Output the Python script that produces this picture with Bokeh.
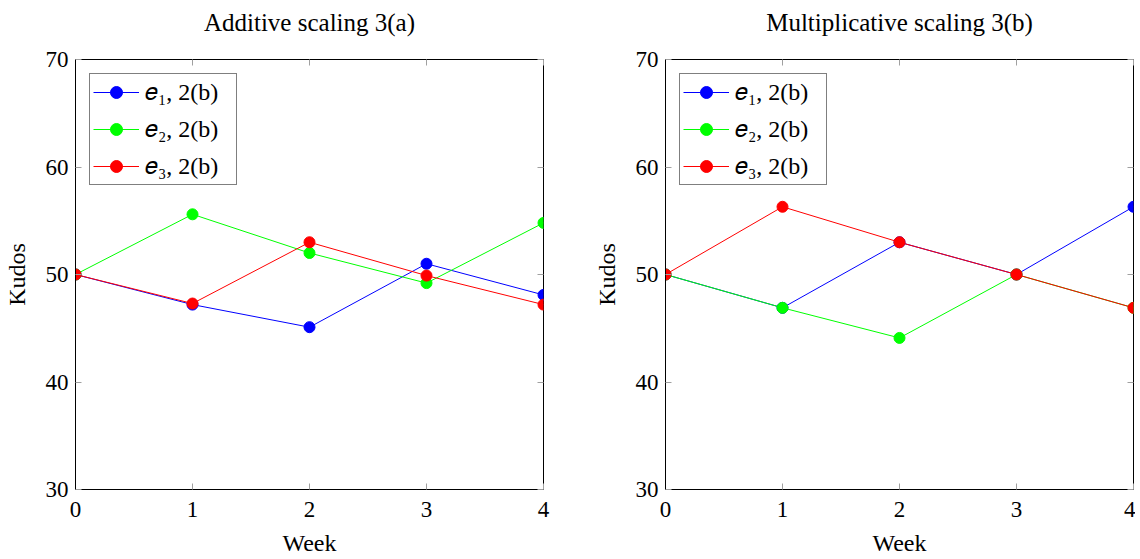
from bokeh.plotting import figure
from bokeh.layouts import row
from bokeh.models import LinearAxis, FixedTicker, Legend, Range1d
from bokeh.embed import file_html
from bokeh.resources import INLINE

weeks = [0, 1, 2, 3, 4]

# Additive scaling 3(a)
add_e1 = [50.0, 47.2, 45.1, 51.0, 48.1]
add_e2 = [50.0, 55.6, 52.0, 49.2, 54.8]
add_e3 = [50.0, 47.3, 53.0, 49.9, 47.2]

# Multiplicative scaling 3(b)
mul_e1 = [50.0, 46.9, 53.0, 50.0, 56.3]
mul_e2 = [50.0, 46.9, 44.1, 50.0, 46.9]
mul_e3 = [50.0, 56.3, 53.0, 50.0, 46.9]

series_labels = ["𝑒₁, 2(b)", "𝑒₂, 2(b)", "𝑒₃, 2(b)"]
series_colors = ["#0000ff", "#00ff00", "#ff0000"]
titles = ["Additive scaling 3(a)", "Multiplicative scaling 3(b)"]
x_ticks = [0, 1, 2, 3, 4]
y_ticks = [30, 40, 50, 60, 70]

FONT = "Liberation Serif"
FS = "23px"


def hide_labels(ax):
    ax.major_label_text_font_size = "1px"
    ax.major_label_text_color = None
    ax.major_label_text_alpha = 0
    ax.major_label_standoff = 0
    ax.axis_line_color = None


def make_plot(title, data, width, border_right):
    p = figure(width=width, height=559, output_backend="svg", toolbar_location=None,
               x_range=Range1d(0, 4), y_range=Range1d(30, 70),
               min_border_left=70, min_border_right=border_right,
               min_border_top=59, min_border_bottom=70)
    p.title.text = title
    p.title.align = "center"
    p.title.text_font = FONT
    p.title.text_font_size = "25px"
    p.title.text_font_style = "normal"
    p.title.text_color = "black"
    p.title.standoff = 10
    p.grid.visible = False
    p.outline_line_color = "black"
    p.outline_line_width = 1
    p.background_fill_color = "white"
    p.border_fill_color = "white"

    # top / right mirror axes (ticks only, no labels)
    p.add_layout(LinearAxis(), "above")
    p.add_layout(LinearAxis(), "right")

    for ax in p.xaxis:
        ax.ticker = FixedTicker(ticks=x_ticks)
    for ax in p.yaxis:
        ax.ticker = FixedTicker(ticks=y_ticks)
    for ax in list(p.xaxis) + list(p.yaxis):
        ax.major_tick_in = 6
        ax.major_tick_out = 0
        ax.minor_tick_in = 0
        ax.minor_tick_out = 0
        ax.major_tick_line_color = "#a0a0a0"
        ax.axis_line_color = "black"
        ax.major_label_text_font = FONT
        ax.major_label_text_font_size = FS
        ax.major_label_text_color = "black"
        ax.axis_label_text_font = FONT
        ax.axis_label_text_font_size = "24px"
        ax.axis_label_text_font_style = "normal"
        ax.axis_label_text_color = "black"

    for ax in p.above + p.right:
        if isinstance(ax, LinearAxis):
            hide_labels(ax)

    # invisible spacer axis that lifts the title away from the frame
    spacer = LinearAxis(ticker=FixedTicker(ticks=x_ticks))
    hide_labels(spacer)
    spacer.major_tick_in = 0
    spacer.major_tick_out = 19
    spacer.major_tick_line_color = None
    spacer.minor_tick_line_color = None
    p.add_layout(spacer, "above")

    p.below[0].axis_label = "Week"
    p.below[0].major_label_standoff = 12
    p.below[0].axis_label_standoff = 10
    p.left[0].axis_label = "Kudos"
    p.left[0].major_label_standoff = 7
    p.left[0].axis_label_standoff = 13

    items = []
    for ys, lab, col in zip(data, series_labels, series_colors):
        l = p.line(weeks, ys, line_color=col, line_width=1)
        s = p.scatter(weeks, ys, size=11, fill_color=col, line_color=col)
        items.append((lab, [l, s]))

    legend = Legend(items=items, location="top_left")
    legend.margin = 14
    legend.padding = 3
    legend.spacing = 7
    legend.glyph_width = 46
    legend.glyph_height = 30
    legend.label_height = 30
    legend.label_width = 88
    legend.label_standoff = 6
    legend.label_text_font = FONT
    legend.label_text_font_size = "24px"
    legend.label_text_color = "black"
    legend.border_line_color = "black"
    legend.border_line_width = 1
    legend.background_fill_color = "white"
    legend.background_fill_alpha = 1.0
    p.add_layout(legend, "center")
    return p


p1 = make_plot(titles[0], [add_e1, add_e2, add_e3], 590, 47)
p2 = make_plot(titles[1], [mul_e1, mul_e2, mul_e3], 545, 2)

layout = row(p1, p2)
open("out.html", "w").write(file_html(layout, INLINE))
